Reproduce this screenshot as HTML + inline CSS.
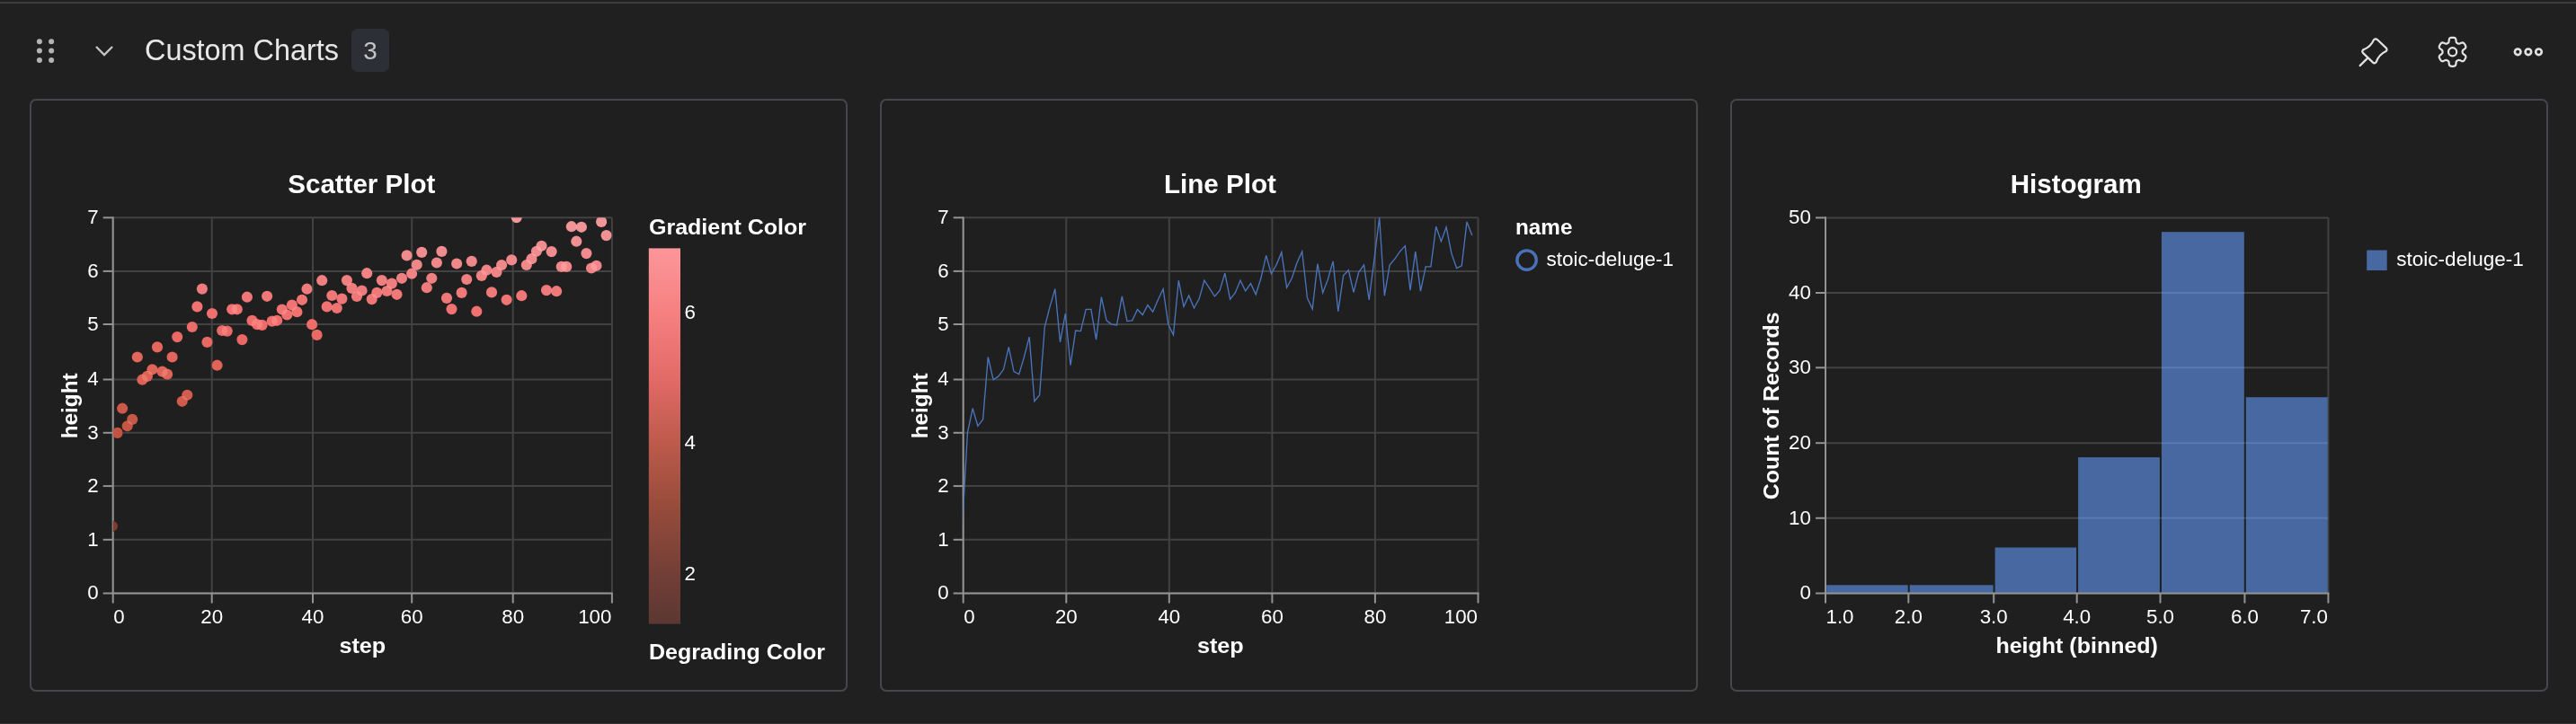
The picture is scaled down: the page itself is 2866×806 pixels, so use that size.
<!DOCTYPE html>
<html><head><meta charset="utf-8"><title>Custom Charts</title>
<style>
html,body{margin:0;padding:0;background:#202020;}
body{width:2866px;height:806px;position:relative;overflow:hidden;font-family:"Liberation Sans", sans-serif;}
.topline{position:absolute;left:0;top:2px;width:2866px;height:2px;background:#3d3d3d;}
.botline{position:absolute;left:0;top:805px;width:2866px;height:1px;background:#343434;}
.panel{position:absolute;top:110px;width:906px;height:656px;border:2px solid #46474a;border-radius:7px;background:#1f1f1f;box-sizing:content-box;}
.badge{position:absolute;left:391px;top:32px;width:42px;height:48px;border-radius:7px;background:#2d2f36;}
</style></head><body>
<div class="topline"></div><div class="botline"></div>
<div class="badge"></div>
<div class="panel" style="left:33px"></div>
<div class="panel" style="left:979px"></div>
<div class="panel" style="left:1925px"></div>
<svg width="2866" height="806" viewBox="0 0 2866 806" style="position:absolute;left:0;top:0;will-change:transform" font-family='"Liberation Sans", sans-serif'>
<g id="scatter">
<rect x="100" y="230" width="600" height="445" fill="#1f1f1f"/>
<line x1="125.7" x2="125.7" y1="242.3" y2="660.5" stroke="#424242" stroke-width="2"/>
<line x1="235.7" x2="235.7" y1="242.3" y2="660.5" stroke="#424242" stroke-width="2"/>
<line x1="348.0" x2="348.0" y1="242.3" y2="660.5" stroke="#424242" stroke-width="2"/>
<line x1="458.2" x2="458.2" y1="242.3" y2="660.5" stroke="#424242" stroke-width="2"/>
<line x1="570.7" x2="570.7" y1="242.3" y2="660.5" stroke="#424242" stroke-width="2"/>
<line x1="680.9" x2="680.9" y1="242.3" y2="660.5" stroke="#424242" stroke-width="2"/>
<line x1="125.7" x2="680.9" y1="660.5" y2="660.5" stroke="#424242" stroke-width="2"/>
<line x1="125.7" x2="680.9" y1="600.8" y2="600.8" stroke="#424242" stroke-width="2"/>
<line x1="125.7" x2="680.9" y1="541.1" y2="541.1" stroke="#424242" stroke-width="2"/>
<line x1="125.7" x2="680.9" y1="481.8" y2="481.8" stroke="#424242" stroke-width="2"/>
<line x1="125.7" x2="680.9" y1="422.5" y2="422.5" stroke="#424242" stroke-width="2"/>
<line x1="125.7" x2="680.9" y1="361.0" y2="361.0" stroke="#424242" stroke-width="2"/>
<line x1="125.7" x2="680.9" y1="301.9" y2="301.9" stroke="#424242" stroke-width="2"/>
<line x1="125.7" x2="680.9" y1="242.3" y2="242.3" stroke="#424242" stroke-width="2"/>
<line x1="125.7" x2="125.7" y1="660.5" y2="671.5" stroke="#939393" stroke-width="2"/>
<line x1="235.7" x2="235.7" y1="660.5" y2="671.5" stroke="#939393" stroke-width="2"/>
<line x1="348.0" x2="348.0" y1="660.5" y2="671.5" stroke="#939393" stroke-width="2"/>
<line x1="458.2" x2="458.2" y1="660.5" y2="671.5" stroke="#939393" stroke-width="2"/>
<line x1="570.7" x2="570.7" y1="660.5" y2="671.5" stroke="#939393" stroke-width="2"/>
<line x1="680.9" x2="680.9" y1="660.5" y2="671.5" stroke="#939393" stroke-width="2"/>
<line x1="114.7" x2="125.7" y1="660.5" y2="660.5" stroke="#939393" stroke-width="2"/>
<line x1="114.7" x2="125.7" y1="600.8" y2="600.8" stroke="#939393" stroke-width="2"/>
<line x1="114.7" x2="125.7" y1="541.1" y2="541.1" stroke="#939393" stroke-width="2"/>
<line x1="114.7" x2="125.7" y1="481.8" y2="481.8" stroke="#939393" stroke-width="2"/>
<line x1="114.7" x2="125.7" y1="422.5" y2="422.5" stroke="#939393" stroke-width="2"/>
<line x1="114.7" x2="125.7" y1="361.0" y2="361.0" stroke="#939393" stroke-width="2"/>
<line x1="114.7" x2="125.7" y1="301.9" y2="301.9" stroke="#939393" stroke-width="2"/>
<line x1="114.7" x2="125.7" y1="242.3" y2="242.3" stroke="#939393" stroke-width="2"/>
<line x1="125.7" x2="125.7" y1="241.3" y2="661.5" stroke="#939393" stroke-width="2"/>
<line x1="124.7" x2="681.9" y1="660.5" y2="660.5" stroke="#939393" stroke-width="2"/>
<text x="126.2" y="693.6" font-size="22.3" text-anchor="start" fill="#ffffff">0</text>
<text x="235.7" y="693.6" font-size="22.3" text-anchor="middle" fill="#ffffff">20</text>
<text x="348.0" y="693.6" font-size="22.3" text-anchor="middle" fill="#ffffff">40</text>
<text x="458.2" y="693.6" font-size="22.3" text-anchor="middle" fill="#ffffff">60</text>
<text x="570.7" y="693.6" font-size="22.3" text-anchor="middle" fill="#ffffff">80</text>
<text x="680.4" y="693.6" font-size="22.3" text-anchor="end" fill="#ffffff">100</text>
<text x="109.6" y="667.4" font-size="22.3" text-anchor="end" fill="#ffffff">0</text>
<text x="109.6" y="607.6999999999999" font-size="22.3" text-anchor="end" fill="#ffffff">1</text>
<text x="109.6" y="548.0" font-size="22.3" text-anchor="end" fill="#ffffff">2</text>
<text x="109.6" y="488.7" font-size="22.3" text-anchor="end" fill="#ffffff">3</text>
<text x="109.6" y="429.4" font-size="22.3" text-anchor="end" fill="#ffffff">4</text>
<text x="109.6" y="367.9" font-size="22.3" text-anchor="end" fill="#ffffff">5</text>
<text x="109.6" y="308.79999999999995" font-size="22.3" text-anchor="end" fill="#ffffff">6</text>
<text x="109.6" y="249.20000000000002" font-size="22.3" text-anchor="end" fill="#ffffff">7</text>
<text x="402.3" y="215.1" font-size="30" text-anchor="middle" font-weight="700" fill="#ffffff" textLength="164" lengthAdjust="spacingAndGlyphs">Scatter Plot</text>
<text x="403.3" y="726.7" font-size="24.2" text-anchor="middle" font-weight="700" fill="#ffffff" textLength="51.8" lengthAdjust="spacingAndGlyphs">step</text>
<text transform="translate(85.5,451.8) rotate(-90)" font-size="24" font-weight="700" text-anchor="middle" fill="#ffffff" textLength="73" lengthAdjust="spacingAndGlyphs">height</text>
<clipPath id="c1"><rect x="125.7" y="242.3" width="555.1999999999999" height="418.2"/></clipPath>
<g clip-path="url(#c1)">
<g fill-opacity="0.93"><circle cx="125.0" cy="585.8" r="6.1" fill="#752919"/><circle cx="130.6" cy="481.9" r="6.1" fill="#c94633"/><circle cx="136.1" cy="454.7" r="6.1" fill="#d44c39"/><circle cx="141.7" cy="474.3" r="6.1" fill="#cc4734"/><circle cx="147.2" cy="466.9" r="6.1" fill="#cf4a36"/><circle cx="152.8" cy="397.5" r="6.1" fill="#f05b4d"/><circle cx="158.3" cy="422.7" r="6.1" fill="#e75748"/><circle cx="163.9" cy="418.9" r="6.1" fill="#ea5748"/><circle cx="169.4" cy="411.3" r="6.1" fill="#ec594b"/><circle cx="175.0" cy="386.4" r="6.1" fill="#f35e53"/><circle cx="180.5" cy="413.6" r="6.1" fill="#eb584a"/><circle cx="186.1" cy="416.6" r="6.1" fill="#ea584a"/><circle cx="191.6" cy="397.5" r="6.1" fill="#f05b4d"/><circle cx="197.2" cy="375.1" r="6.1" fill="#f76059"/><circle cx="202.7" cy="446.8" r="6.1" fill="#d84e3c"/><circle cx="208.3" cy="439.8" r="6.1" fill="#dc5140"/><circle cx="213.8" cy="364.0" r="6.1" fill="#fa635f"/><circle cx="219.4" cy="341.4" r="6.1" fill="#ff6b6a"/><circle cx="224.9" cy="321.6" r="6.1" fill="#ff7576"/><circle cx="230.5" cy="380.9" r="6.1" fill="#f65f55"/><circle cx="236.0" cy="349.0" r="6.1" fill="#fe6766"/><circle cx="241.6" cy="406.7" r="6.1" fill="#ed594b"/><circle cx="247.1" cy="368.0" r="6.1" fill="#f9615d"/><circle cx="252.7" cy="368.6" r="6.1" fill="#f9615d"/><circle cx="258.2" cy="344.3" r="6.1" fill="#ff6a69"/><circle cx="263.8" cy="344.3" r="6.1" fill="#ff6a69"/><circle cx="269.4" cy="378.1" r="6.1" fill="#f65f58"/><circle cx="274.9" cy="330.7" r="6.1" fill="#ff7070"/><circle cx="280.5" cy="356.9" r="6.1" fill="#fd6563"/><circle cx="286.0" cy="361.1" r="6.1" fill="#fc6360"/><circle cx="291.6" cy="361.9" r="6.1" fill="#fc6360"/><circle cx="297.1" cy="329.8" r="6.1" fill="#ff7070"/><circle cx="302.7" cy="357.6" r="6.1" fill="#fd6463"/><circle cx="308.2" cy="356.8" r="6.1" fill="#fd6563"/><circle cx="313.8" cy="344.5" r="6.1" fill="#ff6a69"/><circle cx="319.3" cy="350.5" r="6.1" fill="#fe6766"/><circle cx="324.9" cy="339.6" r="6.1" fill="#ff6b6b"/><circle cx="330.4" cy="347.2" r="6.1" fill="#fe6967"/><circle cx="336.0" cy="333.8" r="6.1" fill="#ff6d6d"/><circle cx="341.5" cy="321.7" r="6.1" fill="#ff7575"/><circle cx="347.1" cy="361.2" r="6.1" fill="#fc6360"/><circle cx="352.6" cy="372.9" r="6.1" fill="#f8605a"/><circle cx="358.2" cy="312.2" r="6.1" fill="#ff797c"/><circle cx="363.7" cy="341.4" r="6.1" fill="#ff6b6a"/><circle cx="369.3" cy="329.0" r="6.1" fill="#ff7071"/><circle cx="374.8" cy="343.0" r="6.1" fill="#ff6a6a"/><circle cx="380.4" cy="332.6" r="6.1" fill="#ff6f6f"/><circle cx="385.9" cy="312.1" r="6.1" fill="#ff797c"/><circle cx="391.5" cy="320.9" r="6.1" fill="#ff7576"/><circle cx="397.0" cy="330.0" r="6.1" fill="#ff7070"/><circle cx="402.6" cy="323.5" r="6.1" fill="#ff7375"/><circle cx="408.2" cy="304.2" r="6.1" fill="#ff7e80"/><circle cx="413.7" cy="333.1" r="6.1" fill="#ff6f6f"/><circle cx="419.3" cy="325.9" r="6.1" fill="#ff7272"/><circle cx="424.8" cy="312.1" r="6.1" fill="#ff797c"/><circle cx="430.4" cy="324.0" r="6.1" fill="#ff7373"/><circle cx="435.9" cy="315.6" r="6.1" fill="#ff7879"/><circle cx="441.5" cy="327.8" r="6.1" fill="#ff7171"/><circle cx="447.0" cy="309.8" r="6.1" fill="#ff7b7d"/><circle cx="452.6" cy="284.4" r="6.1" fill="#ff868a"/><circle cx="458.1" cy="304.7" r="6.1" fill="#ff7e80"/><circle cx="463.7" cy="294.8" r="6.1" fill="#ff8385"/><circle cx="469.2" cy="280.9" r="6.1" fill="#ff898b"/><circle cx="474.8" cy="320.2" r="6.1" fill="#ff7576"/><circle cx="480.3" cy="309.8" r="6.1" fill="#ff7b7d"/><circle cx="485.9" cy="292.5" r="6.1" fill="#ff8486"/><circle cx="491.4" cy="279.9" r="6.1" fill="#ff898c"/><circle cx="497.0" cy="331.9" r="6.1" fill="#ff6f6f"/><circle cx="502.5" cy="344.1" r="6.1" fill="#ff6a69"/><circle cx="508.1" cy="293.5" r="6.1" fill="#ff8385"/><circle cx="513.6" cy="325.9" r="6.1" fill="#ff7272"/><circle cx="519.2" cy="311.0" r="6.1" fill="#ff7b7c"/><circle cx="524.7" cy="290.9" r="6.1" fill="#ff8486"/><circle cx="530.3" cy="346.7" r="6.1" fill="#ff6967"/><circle cx="535.8" cy="306.9" r="6.1" fill="#ff7d7e"/><circle cx="541.4" cy="300.7" r="6.1" fill="#ff7f83"/><circle cx="547.0" cy="325.4" r="6.1" fill="#ff7272"/><circle cx="552.5" cy="302.9" r="6.1" fill="#ff7f82"/><circle cx="558.1" cy="295.0" r="6.1" fill="#ff8385"/><circle cx="563.6" cy="333.8" r="6.1" fill="#ff6d6d"/><circle cx="569.2" cy="289.4" r="6.1" fill="#ff8588"/><circle cx="574.7" cy="242.1" r="6.1" fill="#ff969a"/><circle cx="580.3" cy="329.2" r="6.1" fill="#ff7070"/><circle cx="585.8" cy="295.0" r="6.1" fill="#ff8385"/><circle cx="591.4" cy="288.2" r="6.1" fill="#ff8589"/><circle cx="596.9" cy="279.8" r="6.1" fill="#ff898c"/><circle cx="602.5" cy="273.8" r="6.1" fill="#ff8b8f"/><circle cx="608.0" cy="323.1" r="6.1" fill="#ff7375"/><circle cx="613.6" cy="280.1" r="6.1" fill="#ff898c"/><circle cx="619.1" cy="324.2" r="6.1" fill="#ff7373"/><circle cx="624.7" cy="296.9" r="6.1" fill="#ff8284"/><circle cx="630.2" cy="296.9" r="6.1" fill="#ff8284"/><circle cx="635.8" cy="252.2" r="6.1" fill="#ff9296"/><circle cx="641.3" cy="268.7" r="6.1" fill="#ff8e91"/><circle cx="646.9" cy="252.8" r="6.1" fill="#ff9296"/><circle cx="652.4" cy="282.1" r="6.1" fill="#ff888b"/><circle cx="658.0" cy="298.5" r="6.1" fill="#ff8083"/><circle cx="663.5" cy="295.8" r="6.1" fill="#ff8285"/><circle cx="669.1" cy="246.9" r="6.1" fill="#ff9598"/><circle cx="674.6" cy="262.1" r="6.1" fill="#ff9094"/></g>
<g fill="rgb(26,26,26)"><circle cx="125.0" cy="585.8" r="6.1" style="mix-blend-mode:screen"/><circle cx="130.6" cy="481.9" r="6.1" style="mix-blend-mode:screen"/><circle cx="136.1" cy="454.7" r="6.1" style="mix-blend-mode:screen"/><circle cx="141.7" cy="474.3" r="6.1" style="mix-blend-mode:screen"/><circle cx="147.2" cy="466.9" r="6.1" style="mix-blend-mode:screen"/><circle cx="152.8" cy="397.5" r="6.1" style="mix-blend-mode:screen"/><circle cx="158.3" cy="422.7" r="6.1" style="mix-blend-mode:screen"/><circle cx="163.9" cy="418.9" r="6.1" style="mix-blend-mode:screen"/><circle cx="169.4" cy="411.3" r="6.1" style="mix-blend-mode:screen"/><circle cx="175.0" cy="386.4" r="6.1" style="mix-blend-mode:screen"/><circle cx="180.5" cy="413.6" r="6.1" style="mix-blend-mode:screen"/><circle cx="186.1" cy="416.6" r="6.1" style="mix-blend-mode:screen"/><circle cx="191.6" cy="397.5" r="6.1" style="mix-blend-mode:screen"/><circle cx="197.2" cy="375.1" r="6.1" style="mix-blend-mode:screen"/><circle cx="202.7" cy="446.8" r="6.1" style="mix-blend-mode:screen"/><circle cx="208.3" cy="439.8" r="6.1" style="mix-blend-mode:screen"/><circle cx="213.8" cy="364.0" r="6.1" style="mix-blend-mode:screen"/><circle cx="219.4" cy="341.4" r="6.1" style="mix-blend-mode:screen"/><circle cx="224.9" cy="321.6" r="6.1" style="mix-blend-mode:screen"/><circle cx="230.5" cy="380.9" r="6.1" style="mix-blend-mode:screen"/><circle cx="236.0" cy="349.0" r="6.1" style="mix-blend-mode:screen"/><circle cx="241.6" cy="406.7" r="6.1" style="mix-blend-mode:screen"/><circle cx="247.1" cy="368.0" r="6.1" style="mix-blend-mode:screen"/><circle cx="252.7" cy="368.6" r="6.1" style="mix-blend-mode:screen"/><circle cx="258.2" cy="344.3" r="6.1" style="mix-blend-mode:screen"/><circle cx="263.8" cy="344.3" r="6.1" style="mix-blend-mode:screen"/><circle cx="269.4" cy="378.1" r="6.1" style="mix-blend-mode:screen"/><circle cx="274.9" cy="330.7" r="6.1" style="mix-blend-mode:screen"/><circle cx="280.5" cy="356.9" r="6.1" style="mix-blend-mode:screen"/><circle cx="286.0" cy="361.1" r="6.1" style="mix-blend-mode:screen"/><circle cx="291.6" cy="361.9" r="6.1" style="mix-blend-mode:screen"/><circle cx="297.1" cy="329.8" r="6.1" style="mix-blend-mode:screen"/><circle cx="302.7" cy="357.6" r="6.1" style="mix-blend-mode:screen"/><circle cx="308.2" cy="356.8" r="6.1" style="mix-blend-mode:screen"/><circle cx="313.8" cy="344.5" r="6.1" style="mix-blend-mode:screen"/><circle cx="319.3" cy="350.5" r="6.1" style="mix-blend-mode:screen"/><circle cx="324.9" cy="339.6" r="6.1" style="mix-blend-mode:screen"/><circle cx="330.4" cy="347.2" r="6.1" style="mix-blend-mode:screen"/><circle cx="336.0" cy="333.8" r="6.1" style="mix-blend-mode:screen"/><circle cx="341.5" cy="321.7" r="6.1" style="mix-blend-mode:screen"/><circle cx="347.1" cy="361.2" r="6.1" style="mix-blend-mode:screen"/><circle cx="352.6" cy="372.9" r="6.1" style="mix-blend-mode:screen"/><circle cx="358.2" cy="312.2" r="6.1" style="mix-blend-mode:screen"/><circle cx="363.7" cy="341.4" r="6.1" style="mix-blend-mode:screen"/><circle cx="369.3" cy="329.0" r="6.1" style="mix-blend-mode:screen"/><circle cx="374.8" cy="343.0" r="6.1" style="mix-blend-mode:screen"/><circle cx="380.4" cy="332.6" r="6.1" style="mix-blend-mode:screen"/><circle cx="385.9" cy="312.1" r="6.1" style="mix-blend-mode:screen"/><circle cx="391.5" cy="320.9" r="6.1" style="mix-blend-mode:screen"/><circle cx="397.0" cy="330.0" r="6.1" style="mix-blend-mode:screen"/><circle cx="402.6" cy="323.5" r="6.1" style="mix-blend-mode:screen"/><circle cx="408.2" cy="304.2" r="6.1" style="mix-blend-mode:screen"/><circle cx="413.7" cy="333.1" r="6.1" style="mix-blend-mode:screen"/><circle cx="419.3" cy="325.9" r="6.1" style="mix-blend-mode:screen"/><circle cx="424.8" cy="312.1" r="6.1" style="mix-blend-mode:screen"/><circle cx="430.4" cy="324.0" r="6.1" style="mix-blend-mode:screen"/><circle cx="435.9" cy="315.6" r="6.1" style="mix-blend-mode:screen"/><circle cx="441.5" cy="327.8" r="6.1" style="mix-blend-mode:screen"/><circle cx="447.0" cy="309.8" r="6.1" style="mix-blend-mode:screen"/><circle cx="452.6" cy="284.4" r="6.1" style="mix-blend-mode:screen"/><circle cx="458.1" cy="304.7" r="6.1" style="mix-blend-mode:screen"/><circle cx="463.7" cy="294.8" r="6.1" style="mix-blend-mode:screen"/><circle cx="469.2" cy="280.9" r="6.1" style="mix-blend-mode:screen"/><circle cx="474.8" cy="320.2" r="6.1" style="mix-blend-mode:screen"/><circle cx="480.3" cy="309.8" r="6.1" style="mix-blend-mode:screen"/><circle cx="485.9" cy="292.5" r="6.1" style="mix-blend-mode:screen"/><circle cx="491.4" cy="279.9" r="6.1" style="mix-blend-mode:screen"/><circle cx="497.0" cy="331.9" r="6.1" style="mix-blend-mode:screen"/><circle cx="502.5" cy="344.1" r="6.1" style="mix-blend-mode:screen"/><circle cx="508.1" cy="293.5" r="6.1" style="mix-blend-mode:screen"/><circle cx="513.6" cy="325.9" r="6.1" style="mix-blend-mode:screen"/><circle cx="519.2" cy="311.0" r="6.1" style="mix-blend-mode:screen"/><circle cx="524.7" cy="290.9" r="6.1" style="mix-blend-mode:screen"/><circle cx="530.3" cy="346.7" r="6.1" style="mix-blend-mode:screen"/><circle cx="535.8" cy="306.9" r="6.1" style="mix-blend-mode:screen"/><circle cx="541.4" cy="300.7" r="6.1" style="mix-blend-mode:screen"/><circle cx="547.0" cy="325.4" r="6.1" style="mix-blend-mode:screen"/><circle cx="552.5" cy="302.9" r="6.1" style="mix-blend-mode:screen"/><circle cx="558.1" cy="295.0" r="6.1" style="mix-blend-mode:screen"/><circle cx="563.6" cy="333.8" r="6.1" style="mix-blend-mode:screen"/><circle cx="569.2" cy="289.4" r="6.1" style="mix-blend-mode:screen"/><circle cx="574.7" cy="242.1" r="6.1" style="mix-blend-mode:screen"/><circle cx="580.3" cy="329.2" r="6.1" style="mix-blend-mode:screen"/><circle cx="585.8" cy="295.0" r="6.1" style="mix-blend-mode:screen"/><circle cx="591.4" cy="288.2" r="6.1" style="mix-blend-mode:screen"/><circle cx="596.9" cy="279.8" r="6.1" style="mix-blend-mode:screen"/><circle cx="602.5" cy="273.8" r="6.1" style="mix-blend-mode:screen"/><circle cx="608.0" cy="323.1" r="6.1" style="mix-blend-mode:screen"/><circle cx="613.6" cy="280.1" r="6.1" style="mix-blend-mode:screen"/><circle cx="619.1" cy="324.2" r="6.1" style="mix-blend-mode:screen"/><circle cx="624.7" cy="296.9" r="6.1" style="mix-blend-mode:screen"/><circle cx="630.2" cy="296.9" r="6.1" style="mix-blend-mode:screen"/><circle cx="635.8" cy="252.2" r="6.1" style="mix-blend-mode:screen"/><circle cx="641.3" cy="268.7" r="6.1" style="mix-blend-mode:screen"/><circle cx="646.9" cy="252.8" r="6.1" style="mix-blend-mode:screen"/><circle cx="652.4" cy="282.1" r="6.1" style="mix-blend-mode:screen"/><circle cx="658.0" cy="298.5" r="6.1" style="mix-blend-mode:screen"/><circle cx="663.5" cy="295.8" r="6.1" style="mix-blend-mode:screen"/><circle cx="669.1" cy="246.9" r="6.1" style="mix-blend-mode:screen"/><circle cx="674.6" cy="262.1" r="6.1" style="mix-blend-mode:screen"/></g>
</g>
<defs><linearGradient id="lg" x1="0" y1="1" x2="0" y2="0"><stop offset="0.0" stop-color="#5c3732"/><stop offset="0.1304" stop-color="#723f37"/><stop offset="0.3043" stop-color="#964b3a"/><stop offset="0.4783" stop-color="#bc5a4c"/><stop offset="0.6522" stop-color="#e26a67"/><stop offset="0.8261" stop-color="#f68080"/><stop offset="1.0" stop-color="#fc9699"/></linearGradient></defs>
<text x="722" y="261" font-size="24" text-anchor="start" font-weight="700" fill="#ffffff" textLength="175" lengthAdjust="spacingAndGlyphs">Gradient Color</text>
<rect x="721.8" y="276.4" width="35.2" height="418.2" fill="url(#lg)"/>
<text x="761.5" y="355.2" font-size="22.3" text-anchor="start" fill="#ffffff">6</text>
<text x="761.5" y="499.8" font-size="22.3" text-anchor="start" fill="#ffffff">4</text>
<text x="761.5" y="646.3" font-size="22.3" text-anchor="start" fill="#ffffff">2</text>
<text x="722" y="734" font-size="24" text-anchor="start" font-weight="700" fill="#ffffff" textLength="196" lengthAdjust="spacingAndGlyphs">Degrading Color</text>
</g>
<g id="line">
<line x1="1071.7" x2="1071.7" y1="242.3" y2="660.5" stroke="#424242" stroke-width="2"/>
<line x1="1186.3" x2="1186.3" y1="242.3" y2="660.5" stroke="#424242" stroke-width="2"/>
<line x1="1300.8" x2="1300.8" y1="242.3" y2="660.5" stroke="#424242" stroke-width="2"/>
<line x1="1415.4" x2="1415.4" y1="242.3" y2="660.5" stroke="#424242" stroke-width="2"/>
<line x1="1529.9" x2="1529.9" y1="242.3" y2="660.5" stroke="#424242" stroke-width="2"/>
<line x1="1644.5" x2="1644.5" y1="242.3" y2="660.5" stroke="#424242" stroke-width="2"/>
<line x1="1071.7" x2="1644.5" y1="660.5" y2="660.5" stroke="#424242" stroke-width="2"/>
<line x1="1071.7" x2="1644.5" y1="600.8" y2="600.8" stroke="#424242" stroke-width="2"/>
<line x1="1071.7" x2="1644.5" y1="541.1" y2="541.1" stroke="#424242" stroke-width="2"/>
<line x1="1071.7" x2="1644.5" y1="481.8" y2="481.8" stroke="#424242" stroke-width="2"/>
<line x1="1071.7" x2="1644.5" y1="422.5" y2="422.5" stroke="#424242" stroke-width="2"/>
<line x1="1071.7" x2="1644.5" y1="361.0" y2="361.0" stroke="#424242" stroke-width="2"/>
<line x1="1071.7" x2="1644.5" y1="301.9" y2="301.9" stroke="#424242" stroke-width="2"/>
<line x1="1071.7" x2="1644.5" y1="242.3" y2="242.3" stroke="#424242" stroke-width="2"/>
<line x1="1071.7" x2="1071.7" y1="660.5" y2="671.5" stroke="#939393" stroke-width="2"/>
<line x1="1186.3" x2="1186.3" y1="660.5" y2="671.5" stroke="#939393" stroke-width="2"/>
<line x1="1300.8" x2="1300.8" y1="660.5" y2="671.5" stroke="#939393" stroke-width="2"/>
<line x1="1415.4" x2="1415.4" y1="660.5" y2="671.5" stroke="#939393" stroke-width="2"/>
<line x1="1529.9" x2="1529.9" y1="660.5" y2="671.5" stroke="#939393" stroke-width="2"/>
<line x1="1644.5" x2="1644.5" y1="660.5" y2="671.5" stroke="#939393" stroke-width="2"/>
<line x1="1060.7" x2="1071.7" y1="660.5" y2="660.5" stroke="#939393" stroke-width="2"/>
<line x1="1060.7" x2="1071.7" y1="600.8" y2="600.8" stroke="#939393" stroke-width="2"/>
<line x1="1060.7" x2="1071.7" y1="541.1" y2="541.1" stroke="#939393" stroke-width="2"/>
<line x1="1060.7" x2="1071.7" y1="481.8" y2="481.8" stroke="#939393" stroke-width="2"/>
<line x1="1060.7" x2="1071.7" y1="422.5" y2="422.5" stroke="#939393" stroke-width="2"/>
<line x1="1060.7" x2="1071.7" y1="361.0" y2="361.0" stroke="#939393" stroke-width="2"/>
<line x1="1060.7" x2="1071.7" y1="301.9" y2="301.9" stroke="#939393" stroke-width="2"/>
<line x1="1060.7" x2="1071.7" y1="242.3" y2="242.3" stroke="#939393" stroke-width="2"/>
<line x1="1071.7" x2="1071.7" y1="241.3" y2="661.5" stroke="#939393" stroke-width="2"/>
<line x1="1070.7" x2="1645.5" y1="660.5" y2="660.5" stroke="#939393" stroke-width="2"/>
<text x="1072.2" y="693.6" font-size="22.3" text-anchor="start" fill="#ffffff">0</text>
<text x="1186.3" y="693.6" font-size="22.3" text-anchor="middle" fill="#ffffff">20</text>
<text x="1300.8" y="693.6" font-size="22.3" text-anchor="middle" fill="#ffffff">40</text>
<text x="1415.4" y="693.6" font-size="22.3" text-anchor="middle" fill="#ffffff">60</text>
<text x="1529.9" y="693.6" font-size="22.3" text-anchor="middle" fill="#ffffff">80</text>
<text x="1644.0" y="693.6" font-size="22.3" text-anchor="end" fill="#ffffff">100</text>
<text x="1055.6000000000001" y="667.4" font-size="22.3" text-anchor="end" fill="#ffffff">0</text>
<text x="1055.6000000000001" y="607.6999999999999" font-size="22.3" text-anchor="end" fill="#ffffff">1</text>
<text x="1055.6000000000001" y="548.0" font-size="22.3" text-anchor="end" fill="#ffffff">2</text>
<text x="1055.6000000000001" y="488.7" font-size="22.3" text-anchor="end" fill="#ffffff">3</text>
<text x="1055.6000000000001" y="429.4" font-size="22.3" text-anchor="end" fill="#ffffff">4</text>
<text x="1055.6000000000001" y="367.9" font-size="22.3" text-anchor="end" fill="#ffffff">5</text>
<text x="1055.6000000000001" y="308.79999999999995" font-size="22.3" text-anchor="end" fill="#ffffff">6</text>
<text x="1055.6000000000001" y="249.20000000000002" font-size="22.3" text-anchor="end" fill="#ffffff">7</text>
<text x="1357.4" y="215.1" font-size="30" text-anchor="middle" font-weight="700" fill="#ffffff" textLength="125" lengthAdjust="spacingAndGlyphs">Line Plot</text>
<text x="1357.8" y="726.7" font-size="24.2" text-anchor="middle" font-weight="700" fill="#ffffff" textLength="51.8" lengthAdjust="spacingAndGlyphs">step</text>
<text transform="translate(1031.5,451.8) rotate(-90)" font-size="24" font-weight="700" text-anchor="middle" fill="#ffffff" textLength="73" lengthAdjust="spacingAndGlyphs">height</text>
<clipPath id="c2"><rect x="1071.7" y="242.3" width="572.8" height="418.2"/></clipPath>
<polyline clip-path="url(#c2)" points="1070.7,585.8 1076.4,481.9 1082.2,454.7 1087.9,474.3 1093.6,466.9 1099.3,397.5 1105.1,422.7 1110.8,418.9 1116.5,411.3 1122.3,386.4 1128.0,413.6 1133.7,416.6 1139.4,397.5 1145.2,375.1 1150.9,446.8 1156.6,439.8 1162.3,364.0 1168.1,341.4 1173.8,321.6 1179.5,380.9 1185.3,349.0 1191.0,406.7 1196.7,368.0 1202.4,368.6 1208.2,344.3 1213.9,344.3 1219.6,378.1 1225.4,330.7 1231.1,356.9 1236.8,361.1 1242.5,361.9 1248.3,329.8 1254.0,357.6 1259.7,356.8 1265.5,344.5 1271.2,350.5 1276.9,339.6 1282.6,347.2 1288.4,333.8 1294.1,321.7 1299.8,361.2 1305.5,372.9 1311.3,312.2 1317.0,341.4 1322.7,329.0 1328.5,343.0 1334.2,332.6 1339.9,312.1 1345.6,320.9 1351.4,330.0 1357.1,323.5 1362.8,304.2 1368.6,333.1 1374.3,325.9 1380.0,312.1 1385.7,324.0 1391.5,315.6 1397.2,327.8 1402.9,309.8 1408.7,284.4 1414.4,304.7 1420.1,294.8 1425.8,280.9 1431.6,320.2 1437.3,309.8 1443.0,292.5 1448.7,279.9 1454.5,331.9 1460.2,344.1 1465.9,293.5 1471.7,325.9 1477.4,311.0 1483.1,290.9 1488.8,346.7 1494.6,306.9 1500.3,300.7 1506.0,325.4 1511.8,302.9 1517.5,295.0 1523.2,333.8 1528.9,289.4 1534.7,242.1 1540.4,329.2 1546.1,295.0 1551.9,288.2 1557.6,279.8 1563.3,273.8 1569.0,323.1 1574.8,280.1 1580.5,324.2 1586.2,296.9 1591.9,296.9 1597.7,252.2 1603.4,268.7 1609.1,252.8 1614.9,282.1 1620.6,298.5 1626.3,295.8 1632.0,246.9 1637.8,262.1" fill="none" stroke="#4a74bc" stroke-width="1.35" stroke-linejoin="miter"/>
<text x="1686" y="261" font-size="24" text-anchor="start" font-weight="700" fill="#ffffff" textLength="63.5" lengthAdjust="spacingAndGlyphs">name</text>
<circle cx="1698.6" cy="289.6" r="10.7" fill="none" stroke="#4a72b8" stroke-width="3.4"/>
<text x="1720.5" y="296" font-size="22.3" text-anchor="start" fill="#ffffff" textLength="141.5" lengthAdjust="spacingAndGlyphs">stoic-deluge-1</text>
</g>
<g id="hist">
<line x1="2590.4" x2="2590.4" y1="242.3" y2="660.5" stroke="#424242" stroke-width="2"/>
<line x1="2031.0" x2="2590.4" y1="660.5" y2="660.5" stroke="#424242" stroke-width="2"/>
<line x1="2031.0" x2="2590.4" y1="576.8" y2="576.8" stroke="#424242" stroke-width="2"/>
<line x1="2031.0" x2="2590.4" y1="493.2" y2="493.2" stroke="#424242" stroke-width="2"/>
<line x1="2031.0" x2="2590.4" y1="409.3" y2="409.3" stroke="#424242" stroke-width="2"/>
<line x1="2031.0" x2="2590.4" y1="326.0" y2="326.0" stroke="#424242" stroke-width="2"/>
<line x1="2031.0" x2="2590.4" y1="242.4" y2="242.4" stroke="#424242" stroke-width="2"/>
<rect x="2032.2" y="651.3" width="90.5" height="9.2" fill="#4768a0"/>
<rect x="2124.7" y="651.3" width="92.9" height="9.2" fill="#4768a0"/>
<rect x="2219.6" y="609.5" width="90.5" height="51.0" fill="#4768a0"/>
<rect x="2312.1" y="509.1" width="90.8" height="151.4" fill="#4768a0"/>
<rect x="2404.9" y="258.2" width="91.9" height="402.3" fill="#4768a0"/>
<rect x="2498.8" y="442.2" width="91.0" height="218.3" fill="#4768a0"/>
<line x1="2312.1" x2="2402.9" y1="576.8" y2="576.8" stroke="#9fc0ff" stroke-opacity="0.2" stroke-width="2"/>
<line x1="2404.9" x2="2496.8" y1="576.8" y2="576.8" stroke="#9fc0ff" stroke-opacity="0.2" stroke-width="2"/>
<line x1="2404.9" x2="2496.8" y1="493.2" y2="493.2" stroke="#9fc0ff" stroke-opacity="0.2" stroke-width="2"/>
<line x1="2404.9" x2="2496.8" y1="409.3" y2="409.3" stroke="#9fc0ff" stroke-opacity="0.2" stroke-width="2"/>
<line x1="2404.9" x2="2496.8" y1="326.0" y2="326.0" stroke="#9fc0ff" stroke-opacity="0.2" stroke-width="2"/>
<line x1="2498.8" x2="2589.8" y1="576.8" y2="576.8" stroke="#9fc0ff" stroke-opacity="0.2" stroke-width="2"/>
<line x1="2498.8" x2="2589.8" y1="493.2" y2="493.2" stroke="#9fc0ff" stroke-opacity="0.2" stroke-width="2"/>
<line x1="2031.0" x2="2031.0" y1="660.5" y2="671.5" stroke="#939393" stroke-width="2"/>
<line x1="2123.3" x2="2123.3" y1="660.5" y2="671.5" stroke="#939393" stroke-width="2"/>
<line x1="2218.2" x2="2218.2" y1="660.5" y2="671.5" stroke="#939393" stroke-width="2"/>
<line x1="2310.7" x2="2310.7" y1="660.5" y2="671.5" stroke="#939393" stroke-width="2"/>
<line x1="2403.5" x2="2403.5" y1="660.5" y2="671.5" stroke="#939393" stroke-width="2"/>
<line x1="2497.4" x2="2497.4" y1="660.5" y2="671.5" stroke="#939393" stroke-width="2"/>
<line x1="2590.4" x2="2590.4" y1="660.5" y2="671.5" stroke="#939393" stroke-width="2"/>
<line x1="2020.0" x2="2031.0" y1="660.5" y2="660.5" stroke="#939393" stroke-width="2"/>
<line x1="2020.0" x2="2031.0" y1="576.8" y2="576.8" stroke="#939393" stroke-width="2"/>
<line x1="2020.0" x2="2031.0" y1="493.2" y2="493.2" stroke="#939393" stroke-width="2"/>
<line x1="2020.0" x2="2031.0" y1="409.3" y2="409.3" stroke="#939393" stroke-width="2"/>
<line x1="2020.0" x2="2031.0" y1="326.0" y2="326.0" stroke="#939393" stroke-width="2"/>
<line x1="2020.0" x2="2031.0" y1="242.4" y2="242.4" stroke="#939393" stroke-width="2"/>
<line x1="2031.0" x2="2031.0" y1="241.3" y2="661.5" stroke="#939393" stroke-width="2"/>
<line x1="2030.0" x2="2591.4" y1="660.5" y2="660.5" stroke="#939393" stroke-width="2"/>
<text x="2031.5" y="693.6" font-size="22.3" text-anchor="start" fill="#ffffff">1.0</text>
<text x="2123.3" y="693.6" font-size="22.3" text-anchor="middle" fill="#ffffff">2.0</text>
<text x="2218.2" y="693.6" font-size="22.3" text-anchor="middle" fill="#ffffff">3.0</text>
<text x="2310.7" y="693.6" font-size="22.3" text-anchor="middle" fill="#ffffff">4.0</text>
<text x="2403.5" y="693.6" font-size="22.3" text-anchor="middle" fill="#ffffff">5.0</text>
<text x="2497.4" y="693.6" font-size="22.3" text-anchor="middle" fill="#ffffff">6.0</text>
<text x="2589.9" y="693.6" font-size="22.3" text-anchor="end" fill="#ffffff">7.0</text>
<text x="2014.9" y="667.4" font-size="22.3" text-anchor="end" fill="#ffffff">0</text>
<text x="2014.9" y="583.6999999999999" font-size="22.3" text-anchor="end" fill="#ffffff">10</text>
<text x="2014.9" y="500.09999999999997" font-size="22.3" text-anchor="end" fill="#ffffff">20</text>
<text x="2014.9" y="416.2" font-size="22.3" text-anchor="end" fill="#ffffff">30</text>
<text x="2014.9" y="332.9" font-size="22.3" text-anchor="end" fill="#ffffff">40</text>
<text x="2014.9" y="249.3" font-size="22.3" text-anchor="end" fill="#ffffff">50</text>
<text x="2309.7" y="215.1" font-size="30" text-anchor="middle" font-weight="700" fill="#ffffff" textLength="146" lengthAdjust="spacingAndGlyphs">Histogram</text>
<text x="2310.7" y="726.7" font-size="24.2" text-anchor="middle" font-weight="700" fill="#ffffff" textLength="180.5" lengthAdjust="spacingAndGlyphs">height (binned)</text>
<text transform="translate(1978.5,451.8) rotate(-90)" font-size="24" font-weight="700" text-anchor="middle" fill="#ffffff" textLength="209" lengthAdjust="spacingAndGlyphs">Count of Records</text>
<rect x="2633.2" y="278.5" width="22.5" height="22.5" fill="#4768a0"/>
<text x="2666.3" y="296" font-size="22.3" text-anchor="start" fill="#ffffff" textLength="141.5" lengthAdjust="spacingAndGlyphs">stoic-deluge-1</text>
</g>
<g id="hdr">
<circle cx="43.9" cy="46.3" r="3" fill="#b4b4b4"/>
<circle cx="43.9" cy="56.6" r="3" fill="#b4b4b4"/>
<circle cx="43.9" cy="67.0" r="3" fill="#b4b4b4"/>
<circle cx="57.1" cy="46.3" r="3" fill="#b4b4b4"/>
<circle cx="57.1" cy="56.6" r="3" fill="#b4b4b4"/>
<circle cx="57.1" cy="67.0" r="3" fill="#b4b4b4"/>
<polyline points="107,52 116,61 125,52" fill="none" stroke="#c4c4c4" stroke-width="2.4" stroke-linecap="butt" stroke-linejoin="miter"/>
<text x="161" y="66.5" font-size="33" text-anchor="start" fill="#e8e8e8" textLength="216" lengthAdjust="spacingAndGlyphs">Custom Charts</text>
<text x="412" y="66.4" font-size="28.5" text-anchor="middle" fill="#c4c4c4" textLength="15.5" lengthAdjust="spacingAndGlyphs">3</text>
<g fill="none" stroke="#e2e2e2" stroke-width="2.2" stroke-linecap="round" stroke-linejoin="round">
<path d="M2625.6 73.1 L2634.2 64.6"/>
<path d="M2629.2 59.1 Q2627.3 57.2 2629.3 55.4 Q2637.8 52.3 2641.1 44.2 Q2643.1 42.4 2645.1 44.2 L2654.5 53.1 Q2656.5 54.9 2654.7 56.9 Q2646.5 60.6 2643.6 69.3 Q2641.8 71.3 2639.9 69.4 Z"/>
<polygon points="2739.7,57.8 2739.7,57.4 2739.7,57.0 2739.8,56.6 2740.0,56.2 2740.4,55.7 2741.1,55.1 2742.1,54.4 2742.9,53.7 2743.3,53.0 2743.4,52.4 2743.4,51.8 2743.2,51.3 2743.0,50.8 2742.7,50.3 2742.5,49.8 2742.2,49.3 2741.9,48.9 2741.5,48.4 2741.1,48.0 2740.7,47.7 2740.1,47.4 2739.3,47.4 2738.3,47.8 2737.2,48.3 2736.3,48.6 2735.7,48.7 2735.2,48.7 2734.8,48.5 2734.5,48.4 2734.2,48.2 2733.8,48.0 2733.5,47.8 2733.2,47.5 2732.9,47.1 2732.7,46.6 2732.6,45.6 2732.4,44.4 2732.2,43.3 2731.8,42.6 2731.3,42.3 2730.8,42.0 2730.3,41.9 2729.7,41.9 2729.2,41.8 2728.6,41.8 2728.0,41.8 2727.5,41.9 2726.9,41.9 2726.4,42.0 2725.9,42.3 2725.4,42.6 2725.0,43.3 2724.8,44.4 2724.6,45.6 2724.5,46.6 2724.3,47.1 2724.0,47.5 2723.7,47.8 2723.4,48.0 2723.0,48.2 2722.7,48.4 2722.4,48.5 2722.0,48.7 2721.5,48.7 2720.9,48.6 2720.0,48.3 2718.9,47.8 2717.9,47.4 2717.1,47.4 2716.5,47.7 2716.1,48.0 2715.7,48.4 2715.3,48.9 2715.0,49.3 2714.7,49.8 2714.5,50.3 2714.2,50.8 2714.0,51.3 2713.8,51.8 2713.8,52.4 2713.9,53.0 2714.3,53.7 2715.1,54.4 2716.1,55.1 2716.8,55.7 2717.2,56.2 2717.4,56.6 2717.5,57.0 2717.5,57.4 2717.5,57.8 2717.5,58.2 2717.5,58.6 2717.4,59.0 2717.2,59.4 2716.8,59.9 2716.1,60.5 2715.1,61.2 2714.3,61.9 2713.9,62.6 2713.8,63.2 2713.8,63.8 2714.0,64.3 2714.2,64.8 2714.5,65.3 2714.7,65.8 2715.0,66.3 2715.3,66.7 2715.7,67.2 2716.1,67.6 2716.5,67.9 2717.1,68.2 2717.9,68.2 2718.9,67.8 2720.0,67.3 2720.9,67.0 2721.5,66.9 2722.0,66.9 2722.4,67.1 2722.7,67.2 2723.0,67.4 2723.4,67.6 2723.7,67.8 2724.0,68.1 2724.3,68.5 2724.5,69.0 2724.6,70.0 2724.8,71.2 2725.0,72.3 2725.4,73.0 2725.9,73.3 2726.4,73.6 2726.9,73.7 2727.5,73.7 2728.0,73.8 2728.6,73.8 2729.2,73.8 2729.7,73.7 2730.3,73.7 2730.8,73.6 2731.3,73.3 2731.8,73.0 2732.2,72.3 2732.4,71.2 2732.6,70.0 2732.7,69.0 2732.9,68.5 2733.2,68.1 2733.5,67.8 2733.8,67.6 2734.2,67.4 2734.5,67.2 2734.8,67.1 2735.2,66.9 2735.7,66.9 2736.3,67.0 2737.2,67.3 2738.3,67.8 2739.3,68.2 2740.1,68.2 2740.7,67.9 2741.1,67.6 2741.5,67.2 2741.9,66.7 2742.2,66.3 2742.5,65.8 2742.7,65.3 2743.0,64.8 2743.2,64.3 2743.4,63.8 2743.4,63.2 2743.3,62.6 2742.9,61.9 2742.1,61.2 2741.1,60.5 2740.4,59.9 2740.0,59.4 2739.8,59.0 2739.7,58.6 2739.7,58.2"/>
<circle cx="2728.6" cy="57.8" r="4.6"/>
<circle cx="2801.2" cy="57.8" r="3.3" stroke-width="2.6"/>
<circle cx="2812.9" cy="57.8" r="3.3" stroke-width="2.6"/>
<circle cx="2824.5" cy="57.8" r="3.3" stroke-width="2.6"/>
</g>
</g>
</svg>
</body></html>
